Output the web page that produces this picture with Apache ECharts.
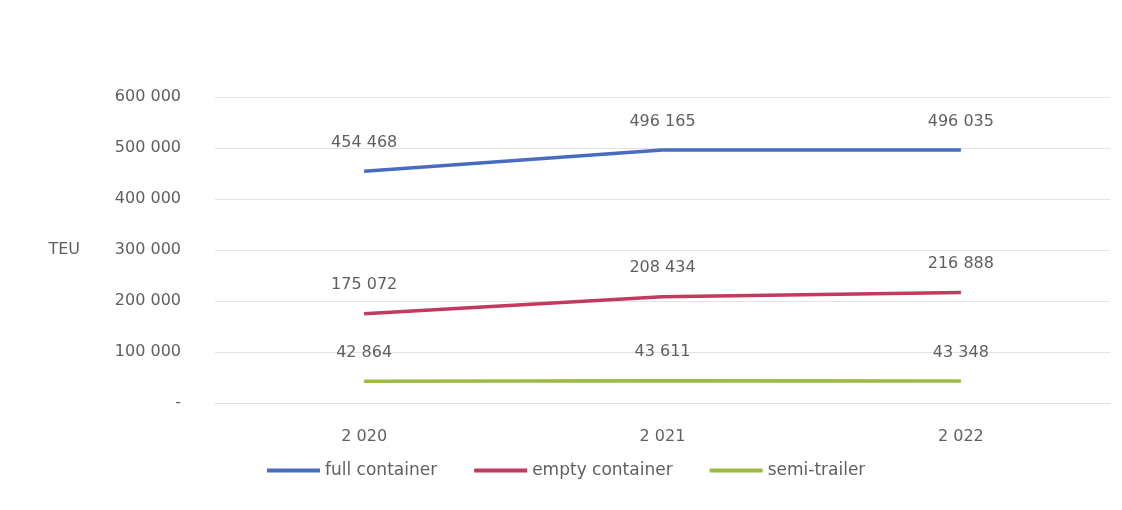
<!DOCTYPE html>
<html><head><meta charset="utf-8">
<script src="https://cdn.jsdelivr.net/npm/echarts@6/dist/echarts.min.js"></script>
<style>html,body{margin:0;padding:0;background:#fff}#c{width:1122px;height:510px}</style>
</head><body><div id="c"></div>
<script>
const categories = [2020, 2021, 2022];
const fullContainer = [454468, 496165, 496035];
const emptyContainer = [175072, 208434, 216888];
const semiTrailer = [42864, 43611, 43348];
const seriesNames = ['full container', 'empty container', 'semi-trailer'];

function fmt(v){
  if (v === 0) return '-';
  return String(Math.round(v)).replace(/\B(?=(\d{3})+(?!\d))/g, ' ');
}
const font = 'DejaVu Sans';
const txt = '#5f5f5f';
function mk(name, data, color){
  return {
    name, type:'line', data, symbol:'circle', symbolSize:1, showSymbol:true, smooth:false,
    lineStyle:{color, width:3.5}, itemStyle:{color},
    label:{show:true, position:'top', distance:20, color:txt, fontFamily:font, fontSize:16,
      formatter:p=>fmt(p.value)}
  };
}
const chart = echarts.init(document.getElementById('c'));
chart.setOption({
  backgroundColor:'#fff',
  animation:false,
  grid:{left:215, right:12, top:97, bottom:107},
  legend:{bottom:26, left:262, itemWidth:53, itemHeight:4, itemGap:37,
    icon:'rect',
    textStyle:{color:txt, fontFamily:font, fontSize:17}},
  xAxis:{type:'category', data:categories.map(fmt),
    axisLine:{show:true, lineStyle:{color:'#e0e0e0'}}, axisTick:{show:false},
    axisLabel:{color:txt, fontFamily:font, fontSize:16, margin:26}},
  yAxis:{type:'value', min:0, max:600000, interval:100000,
    name:'TEU', nameLocation:'middle', nameRotate:0, nameGap:135,
    nameTextStyle:{color:txt, fontFamily:font, fontSize:16},
    axisLine:{show:false}, axisTick:{show:false},
    axisLabel:{color:txt, fontFamily:font, fontSize:16, margin:34, formatter:fmt},
    splitLine:{lineStyle:{color:'#e3e3e3'}}},
  series:[
    mk(seriesNames[0], fullContainer, '#4a6cc0'),
    mk(seriesNames[1], emptyContainer, '#c23a5c'),
    mk(seriesNames[2], semiTrailer, '#9bbb45')
  ]
});
</script></body></html>
